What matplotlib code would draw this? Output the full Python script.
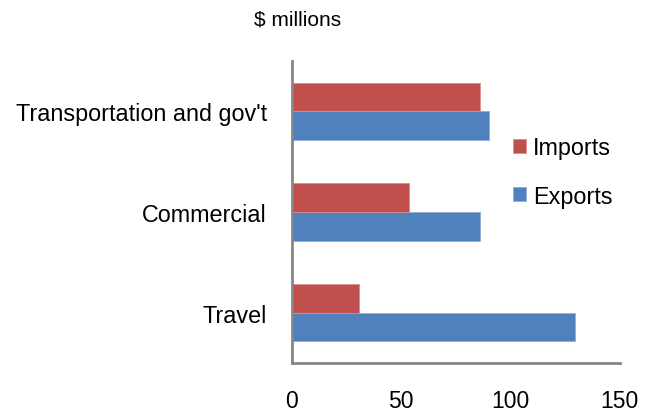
import matplotlib
matplotlib.use("Agg")
import matplotlib.pyplot as plt
import numpy as np

plt.rcParams['font.family'] = ['Liberation Sans', 'DejaVu Sans']

categories = ["Travel", "Commercial", "Transportation and gov't"]
exports = [129.5, 86.2, 90.2]
imports = [30.7, 53.8, 86.2]
xticks = [0, 50, 100, 150]

fig = plt.figure(figsize=(6.57, 4.14), dpi=100)
ax = fig.add_axes([292/657, 1-364/414, (619.5-292)/657, (364-62)/414])

y = np.arange(len(categories))
h = 0.284
ax.barh(y - h/2, exports, height=h, color='#4F81BD', edgecolor='#8EAEDA', linewidth=0.6, label='Exports')
ax.barh(y + h/2, imports, height=h, color='#C0504D', edgecolor='#DA8E8C', linewidth=0.6, label='Imports')

ax.set_xlim(0, 150)
ax.set_ylim(-0.5, 2.5)
ax.set_xticks(xticks)
ax.set_xticklabels([str(t) for t in xticks], fontsize=16.5)
ax.set_yticks(y)
ax.set_yticklabels(categories, fontsize=16.8)
ax.tick_params(axis='x', length=0, pad=19)
ax.tick_params(axis='y', length=0, pad=18)

for s in ['top', 'right']:
    ax.spines[s].set_visible(False)
for s in ['left', 'bottom']:
    ax.spines[s].set_color('#868686')
    ax.spines[s].set_linewidth(2)

handles, labels = ax.get_legend_handles_labels()
leg = ax.legend(handles[::-1], labels[::-1], loc='upper left', bbox_to_anchor=(513/657, 1-137/414),
                bbox_transform=fig.transFigure, frameon=False, fontsize=16.8,
                handlelength=0.55, handleheight=0.55, handletextpad=0.3, labelspacing=1.1,
                borderaxespad=0, borderpad=0)

fig.text(298/657, 1-20/414, "$ millions", fontsize=15, ha='center', va='center')

fig.savefig("out.png", dpi=100)
